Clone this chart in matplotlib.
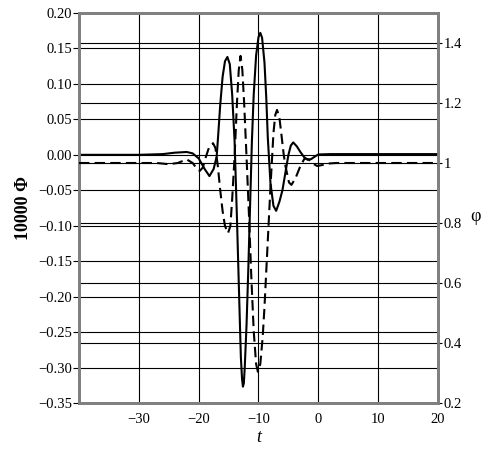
import matplotlib
matplotlib.use("Agg")
import matplotlib.pyplot as plt

plt.rcParams['font.family'] = ['Liberation Serif', 'DejaVu Serif']

# Phi (left axis, x 10000)
t_phi = [-40, -30, -26, -24, -22, -21, -20, -19, -18.2, -17.5, -17.0, -16.8, -16.4,
         -16.0, -15.6, -15.2, -14.8, -14.4, -14.0, -13.6, -13.2, -12.95, -12.75, -12.6,
         -12.45, -12.3, -12.0, -11.7, -11.4, -11.1, -10.8, -10.4, -10.0, -9.7, -9.4,
         -9.0, -8.7, -8.45, -8.0, -7.5, -7.05, -6.5, -6.0, -5.5, -5.0, -4.6, -4.2,
         -3.6, -3.0, -2.4, -1.8, -1.2, -0.5, 0, 2, 20]
Phi = [0.0, 0.0, 0.001, 0.003, 0.004, 0.002, -0.005, -0.02, -0.030, -0.02, -0.003, 0.02, 0.07,
       0.11, 0.132, 0.138, 0.128, 0.085, 0.02, -0.09, -0.21, -0.285, -0.316, -0.327,
       -0.322, -0.30, -0.24, -0.16, -0.07, 0.02, 0.085, 0.14, 0.166, 0.172, 0.165,
       0.13, 0.08, 0.025, -0.04, -0.072, -0.079, -0.066, -0.05, -0.025, 0.0, 0.013, 0.0175,
       0.012, 0.004, -0.003, -0.007, -0.006, -0.002, 0.0005, 0.001, 0.001]

# varphi (right axis)
t_vphi = [-40, -27, -25, -23.5, -22.0, -21.0, -20.2, -19.8, -19.3, -18.8, -18.3, -17.6,
          -17.2, -16.8, -16.4, -16.0, -15.6, -15.1, -14.7, -14.4, -14.0, -13.6, -13.3,
          -13.0, -12.7, -12.4, -12.0, -11.6, -11.2, -10.8, -10.4, -10.1, -9.7, -9.3,
          -9.0, -8.5, -8.0, -7.5, -7.2, -6.9, -6.5, -6.2, -5.8, -5.5, -4.9, -4.5,
          -3.8, -3.0, -2.3, -1.6, -0.9, -0.2, 0.6, 1.5, 3, 20]
vphi = [1.0, 1.0, 0.996, 1.0, 1.012, 1.0, 0.978, 0.974, 0.985, 1.02, 1.05, 1.066,
        1.05, 0.99, 0.91, 0.84, 0.79, 0.766, 0.79, 0.88, 1.02, 1.2, 1.31,
        1.357, 1.31, 1.2, 1.02, 0.83, 0.62, 0.44, 0.33, 0.304, 0.33, 0.42,
        0.52, 0.72, 0.92, 1.10, 1.16, 1.177, 1.15, 1.10, 1.03, 0.99, 0.935, 0.927,
        0.95, 0.99, 1.015, 1.012, 0.998, 0.99, 0.993, 0.998, 1.0, 1.0]

x_ticks = [-30, -20, -10, 0, 10, 20]
left_ticks = [0.20, 0.15, 0.10, 0.05, 0.00, -0.05, -0.10, -0.15, -0.20, -0.25, -0.30, -0.35]
right_ticks = [0.2, 0.4, 0.6, 0.8, 1.0, 1.2, 1.4]
right_labels = ['0.2', '0.4', '0.6', '0.8', '1', '1.2', '1.4']

fig = plt.figure(figsize=(4.92, 4.54), dpi=100)
ax = fig.add_axes([79 / 492, 51 / 454, 359 / 492, 390 / 454])
ax2 = ax.twinx()

ax.plot(t_phi, Phi, color='black', lw=1.5, solid_joinstyle='round', zorder=3)
ax2.plot(t_vphi, vphi, color='black', lw=1.5, linestyle=(0, (5, 2.5)), zorder=3)

ax.set_xlim(-40, 20)
ax.set_ylim(-0.35, 0.20)
ax2.set_ylim(0.2, 1.5)

ax.set_xticks(x_ticks)
ax.set_xticklabels([f"{v:d}".replace('-', '\u2212') for v in x_ticks])
ax.set_yticks(left_ticks)
ax.set_yticklabels([f"{v:.2f}".replace('-', '\u2212') for v in left_ticks])
ax2.set_yticks(right_ticks)
ax2.set_yticklabels(right_labels)

ax.grid(True, color='black', lw=0.8)
ax2.grid(True, axis='y', color='black', lw=0.8)
ax.set_axisbelow(True)

ax.tick_params(axis='x', length=0, pad=7, labelsize=10.5)
ax.tick_params(axis='y', length=4, width=0.8, pad=1, labelsize=10.5)
ax2.tick_params(axis='y', length=3, width=0.8, pad=1, labelsize=10.5)

for a in (ax, ax2):
    for s in a.spines.values():
        s.set_color('#808080')
        s.set_linewidth(2)

ax.set_xlabel('t', style='italic', fontsize=13, labelpad=2)
ax.set_ylabel('10000 \u03a6', fontsize=13, fontweight='bold', labelpad=4)
ax2.set_ylabel('\u03c6', fontsize=13, rotation=0, labelpad=10)

fig.savefig('out.png', dpi=100)
